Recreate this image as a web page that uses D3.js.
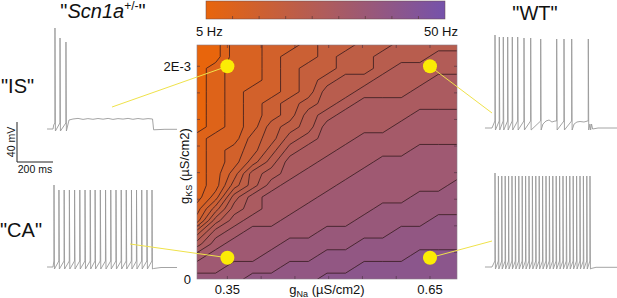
<!DOCTYPE html>
<html><head><meta charset="utf-8">
<script src="https://cdn.jsdelivr.net/npm/d3@7"></script>
<style>
html,body{margin:0;padding:0;background:#fff;}
svg{display:block;}
</style></head><body>
<svg id="chart" width="617" height="298"></svg>
<script>
// ================= DATA =================
// simulated firing frequency (Hz) on the (gNa, gKS) grid; rows = gKS (bottom -> top), cols = gNa (left -> right)
const gNaGrid = [0.305, 0.3325, 0.36, 0.3875, 0.415, 0.4425, 0.47, 0.4975, 0.525, 0.5525, 0.58, 0.6075, 0.635, 0.6625, 0.69];
const gKSGrid = [0, 0.11e-3, 0.22e-3, 0.33e-3, 0.44e-3, 0.55e-3, 0.66e-3, 0.77e-3, 0.88e-3, 0.99e-3, 1.10e-3,
                 1.21e-3, 1.32e-3, 1.43e-3, 1.54e-3, 1.65e-3, 1.76e-3, 1.87e-3, 1.98e-3, 2.09e-3, 2.20e-3];
const freqGrid = [
  [35, 35, 35, 37.5, 37.5, 37.5, 37.5, 40, 40, 40, 40, 40, 40, 40, 40],
  [32.5, 32.5, 35, 35, 35, 37.5, 37.5, 37.5, 37.5, 40, 40, 40, 40, 40, 40],
  [30, 32.5, 32.5, 32.5, 35, 35, 35, 37.5, 37.5, 37.5, 37.5, 37.5, 40, 40, 40],
  [25, 30, 32.5, 32.5, 32.5, 35, 35, 35, 35, 37.5, 37.5, 37.5, 37.5, 37.5, 37.5],
  [20, 27.5, 30, 32.5, 32.5, 32.5, 32.5, 35, 35, 35, 35, 37.5, 37.5, 37.5, 37.5],
  [12.5, 22.5, 27.5, 30, 30, 32.5, 32.5, 32.5, 32.5, 35, 35, 35, 35, 37.5, 37.5],
  [10, 17.5, 25, 27.5, 30, 30, 32.5, 32.5, 32.5, 32.5, 35, 35, 35, 35, 35],
  [7.5, 12.5, 22.5, 27.5, 30, 30, 30, 32.5, 32.5, 32.5, 32.5, 32.5, 35, 35, 35],
  [7.5, 10, 17.5, 22.5, 27.5, 30, 30, 30, 32.5, 32.5, 32.5, 32.5, 32.5, 32.5, 35],
  [7.5, 10, 15, 22.5, 25, 27.5, 30, 30, 30, 32.5, 32.5, 32.5, 32.5, 32.5, 32.5],
  [7.5, 10, 12.5, 17.5, 22.5, 27.5, 27.5, 30, 30, 30, 32.5, 32.5, 32.5, 32.5, 32.5],
  [7.5, 10, 12.5, 15, 20, 25, 27.5, 27.5, 30, 30, 30, 30, 32.5, 32.5, 32.5],
  [7.5, 10, 10, 15, 17.5, 22.5, 25, 27.5, 27.5, 30, 30, 30, 30, 30, 30],
  [5, 7.5, 10, 12.5, 17.5, 20, 22.5, 27.5, 27.5, 27.5, 27.5, 30, 30, 30, 30],
  [5, 7.5, 10, 12.5, 15, 17.5, 22.5, 25, 27.5, 27.5, 27.5, 27.5, 30, 30, 30],
  [5, 7.5, 10, 12.5, 15, 17.5, 20, 22.5, 25, 27.5, 27.5, 27.5, 27.5, 27.5, 27.5],
  [5, 7.5, 10, 12.5, 12.5, 15, 17.5, 22.5, 22.5, 25, 25, 25, 27.5, 27.5, 27.5],
  [5, 7.5, 10, 10, 12.5, 15, 17.5, 20, 22.5, 22.5, 25, 25, 25, 27.5, 27.5],
  [5, 7.5, 10, 10, 12.5, 15, 17.5, 17.5, 20, 20, 22.5, 25, 25, 25, 25],
  [5, 5, 10, 10, 12.5, 15, 15, 17.5, 20, 20, 22.5, 22.5, 22.5, 25, 25],
  [5, 5, 10, 10, 12.5, 12.5, 15, 17.5, 17.5, 20, 20, 22.5, 22.5, 22.5, 22.5]
];
const contourLevels = [6.25, 8.75, 11.25, 13.75, 16.25, 18.75, 21.25, 23.75, 26.25, 28.75, 31.25, 33.75, 36.25, 38.75];
const freqRange = [5, 50];
const colorStops = ["#e8650c", "#7552ab"];
const colorbarTicks = [10, 15, 20, 25, 30, 35, 40, 45];
const colorbarLabels = ["5 Hz", "50 Hz"];

const xTicks = [0.35, 0.40, 0.45, 0.50, 0.55, 0.60, 0.65];
const xTickLabels = [[0.35, "0.35"], [0.65, "0.65"]];
const yTicks = [0.25e-3, 0.5e-3, 0.75e-3, 1.0e-3, 1.25e-3, 1.5e-3, 1.75e-3, 2.0e-3];
const yTickLabels = [[2.0e-3, "2E-3"], [0, "0"]];

// example parameter sets (gNa, gKS) and their voltage traces
const markerNames = ["IS", "CA", "WT_up", "WT_low"];
const markerGNa = [0.35, 0.35, 0.65, 0.65];
const markerGKS = [2.0e-3, 0.2e-3, 2.0e-3, 0.2e-3];
// where each connector touches its trace (ms, mV)
const connectorT = [328, 428, 0, 0];
const connectorV = [-48, -47, -55, -44];

// voltage traces: spike times (ms), spike peaks (mV), slow (sub-threshold) key points [ms, mV]
const isSpikes = [11, 39, 72];
const isPeaks = [31, 21, 17];
const isSlow = [[-33,-70],[0,-70],[4,-66],[89,-61],[111,-60],[139,-59.4],[167,-60.4],[194,-59.6],[222,-60.3],[250,-59.5],[278,-60.2],[306,-59.4],[333,-60.4],[361,-59.6],[389,-60.1],[417,-59.4],[444,-60.3],[472,-59.5],[500,-60.2],[528,-59.6],[553,-60],[559,-70.8],[622,-70.3],[689,-70.3]];

const caSpikes = [5.6, 33, 62, 91, 120, 149, 178, 207, 234, 263, 292, 321, 350, 379, 407, 436, 464, 493, 522, 550];
const caPeaks = [12, 7, 7, 7, 7, 7, 7, 7, 7, 7, 7, 7, 7, 7, 7, 7, 7, 7, 7, 7];
const caSlow = [[-33,-70],[0,-70],[559,-71.5],[600,-70.5],[689,-70.5]];

const wtUpSpikes = [16.7, 40.6, 62.8, 87.2, 112.8, 142.8, 177.8, 215, 270.6, 359.4, 400, 442.8, 535];
const wtUpPeaks = [23, 21, 21, 21, 21, 21, 20, 20, 19, 19, 19, 19, 19];
const wtUpSlow = [[-39,-70],[0,-70],[283,-66],[300,-63],[317,-62],[333,-64],[350,-63],[456,-66],[472,-64],[489,-63.5],[511,-64],[531,-63],[544,-66],[548,-72],[553,-66],[559,-71],[589,-70],[711,-70]];

const wtLowSpikes = [16.7, 35.6, 54.4, 73.3, 92.2, 111.1, 130, 148.9, 167.8, 186.7, 205.6, 224.4, 243.3, 262.2, 281.1, 300, 318.9, 337.8, 356.7, 375.6, 394.4, 413.3, 432.2, 451.1, 470, 488.9, 507.8, 526.7, 544.4];
const wtLowPeaks = [24, 21, 21, 21, 21, 21, 21, 21, 21, 21, 21, 21, 21, 21, 21, 21, 21, 21, 21, 21, 21, 21, 21, 21, 21, 21, 21, 21, 21];
const wtLowSlow = [[-39,-70],[0,-70],[550,-71.5],[578,-70.3],[711,-70.3]];

const scaleBarMs = 200, scaleBarMV = 40;

// ================= DRAWING =================
const FONT = '"Liberation Sans", Arial, Helvetica, sans-serif';
const svg = d3.select("#chart").style("font-family", FONT);
const defs = svg.append("defs");

const PL = 197, PR = 457, PT = 45, PB = 279;
const x = d3.scaleLinear().domain([gNaGrid[0], gNaGrid[gNaGrid.length - 1]]).range([PL, PR]);
const y = d3.scaleLinear().domain([gKSGrid[0], gKSGrid[gKSGrid.length - 1]]).range([PB, PT]);
const color = d3.scaleLinear().domain(freqRange).range(colorStops).interpolate(d3.interpolateRgb);

// ---- colour bar ----
const cbX = d3.scaleLinear().domain(freqRange).range([206, 445]);
const grad = defs.append("linearGradient").attr("id", "cbGrad").attr("x1", "0%").attr("x2", "100%");
d3.range(0, 11).forEach(k => {
  const f = freqRange[0] + k / 10 * (freqRange[1] - freqRange[0]);
  grad.append("stop").attr("offset", (k * 10) + "%").attr("stop-color", color(f));
});
svg.append("rect").attr("x", cbX(5)).attr("y", 1).attr("width", cbX(50) - cbX(5)).attr("height", 18)
  .attr("fill", "url(#cbGrad)").attr("stroke", "#6a4a4a").attr("stroke-width", 0.5);
svg.append("g").selectAll("line").data(colorbarTicks).join("line")
  .attr("x1", d => cbX(d)).attr("x2", d => cbX(d)).attr("y1", 19).attr("y2", 16)
  .attr("stroke", "#5a3a3a").attr("stroke-width", 0.7);
svg.append("text").attr("x", cbX(5) - 10).attr("y", 36).attr("font-size", 13).attr("fill", "#111").text(colorbarLabels[0]);
svg.append("text").attr("x", cbX(50) + 13).attr("y", 36).attr("font-size", 13).attr("fill", "#111").attr("text-anchor", "end").text(colorbarLabels[1]);

// ---- contour map ----
defs.append("clipPath").attr("id", "plotClip").append("rect")
  .attr("x", PL).attr("y", PT).attr("width", PR - PL).attr("height", PB - PT);
const n = gNaGrid.length, m = gKSGrid.length;
const values = [];
for (let j = 0; j < m; j++) for (let i = 0; i < n; i++) values.push(freqGrid[j][i]);
const contours = d3.contours().size([n, m]).thresholds(contourLevels)(values);
const stepX = (gNaGrid[n - 1] - gNaGrid[0]) / (n - 1);
const stepY = (gKSGrid[m - 1] - gKSGrid[0]) / (m - 1);
const proj = d3.geoTransform({
  point(px, py) { this.stream.point(x(gNaGrid[0] + (px - 0.5) * stepX), y(gKSGrid[0] + (py - 0.5) * stepY)); }
});
const cpath = d3.geoPath(proj);
const gMap = svg.append("g").attr("clip-path", "url(#plotClip)");
gMap.append("rect").attr("x", PL).attr("y", PT).attr("width", PR - PL).attr("height", PB - PT)
  .attr("fill", color(freqRange[0]));
gMap.selectAll("path.band").data(contours).join("path").attr("class", "band")
  .attr("d", cpath).attr("fill", d => color(d.value + 2.5));
gMap.selectAll("path.iso").data(contours).join("path").attr("class", "iso")
  .attr("d", cpath).attr("fill", "none").attr("stroke", "#351a1e").attr("stroke-width", 0.8);

// frame + ticks
svg.append("rect").attr("x", PL).attr("y", PT).attr("width", PR - PL).attr("height", PB - PT)
  .attr("fill", "none").attr("stroke", "#8a7a86").attr("stroke-width", 0.6);
const tickG = svg.append("g").attr("stroke", "#4a3040").attr("stroke-width", 0.6);
xTicks.forEach(v => {
  tickG.append("line").attr("x1", x(v)).attr("x2", x(v)).attr("y1", PB).attr("y2", PB - 3);
  tickG.append("line").attr("x1", x(v)).attr("x2", x(v)).attr("y1", PT).attr("y2", PT + 3);
});
yTicks.forEach(v => {
  tickG.append("line").attr("x1", PL).attr("x2", PL + 3).attr("y1", y(v)).attr("y2", y(v));
  tickG.append("line").attr("x1", PR).attr("x2", PR - 3).attr("y1", y(v)).attr("y2", y(v));
});
svg.append("g").selectAll("text").data(xTickLabels).join("text")
  .attr("x", d => x(d[0])).attr("y", 294).attr("text-anchor", "middle").attr("font-size", 13).attr("fill", "#111")
  .text(d => d[1]);
svg.append("g").selectAll("text").data(yTickLabels).join("text")
  .attr("x", 191).attr("y", d => y(d[0]) + 4.5).attr("text-anchor", "end").attr("font-size", 13).attr("fill", "#111")
  .text(d => d[1]);

// axis titles
const xl = svg.append("text").attr("x", 327).attr("y", 294).attr("text-anchor", "middle").attr("font-size", 13).attr("fill", "#111");
xl.append("tspan").text("g");
xl.append("tspan").attr("font-size", 9).attr("dy", 3).text("Na");
xl.append("tspan").attr("dy", -3).text(" (µS/cm2)");
const yl = svg.append("text").attr("transform", "translate(189,166) rotate(-90)").attr("text-anchor", "middle").attr("font-size", 13).attr("fill", "#111");
yl.append("tspan").text("g");
yl.append("tspan").attr("font-size", 9).attr("dy", 3).text("KS");
yl.append("tspan").attr("dy", -3).text(" (µS/cm2)");

// ---- voltage traces ----
const pxPerMs = 0.18, pxPerMV = 1.0;
function panelScales(t0px, restPx) {
  const ts = d3.scaleLinear().domain([0, 1000]).range([t0px, t0px + 1000 * pxPerMs]);
  const vs = d3.scaleLinear().domain([-70, -30]).range([restPx, restPx - 40 * pxPerMV]);
  return { ts, vs };
}
const panels = {
  IS: panelScales(53, 129),
  CA: panelScales(53, 267),
  WT_up: panelScales(492, 128),
  WT_low: panelScales(492, 267)
};
function buildTrace(spikes, peaks, slow, thr, trough) {
  const pts = slow.map(p => ({ t: p[0], v: p[1] }));
  spikes.forEach((s, i) => {
    pts.push({ t: s - 0.6, v: thr });
    pts.push({ t: s, v: peaks[i] });
    pts.push({ t: s + 2.4, v: trough });
  });
  pts.sort((a, b) => a.t - b.t);
  return pts;
}
const traceDefs = [
  { key: "IS", pts: buildTrace(isSpikes, isPeaks, isSlow, -64, -72) },
  { key: "CA", pts: buildTrace(caSpikes, caPeaks, caSlow, -64, -72) },
  { key: "WT_up", pts: buildTrace(wtUpSpikes, wtUpPeaks, wtUpSlow, -63, -72) },
  { key: "WT_low", pts: buildTrace(wtLowSpikes, wtLowPeaks, wtLowSlow, -64, -72) }
];
traceDefs.forEach(td => {
  const p = panels[td.key];
  const line = d3.line().x(d => p.ts(d.t)).y(d => p.vs(d.v));
  svg.append("path").attr("d", line(td.pts)).attr("fill", "none")
    .attr("stroke", "#9a9a9a").attr("stroke-width", 0.9).attr("stroke-linejoin", "round");
});

// scale bar (uses the trace scales)
const sbX = 17, sbY = 162;
svg.append("path")
  .attr("d", `M${sbX},${sbY - scaleBarMV * pxPerMV}V${sbY}H${sbX + scaleBarMs * pxPerMs}`)
  .attr("fill", "none").attr("stroke", "#222").attr("stroke-width", 1);
svg.append("text").attr("transform", `translate(${sbX - 2},${sbY - scaleBarMV * pxPerMV / 2}) rotate(-90)`)
  .attr("text-anchor", "middle").attr("font-size", 10.5).attr("fill", "#111").text(scaleBarMV + " mV");
svg.append("text").attr("x", sbX + scaleBarMs * pxPerMs / 2).attr("y", sbY + 11).attr("text-anchor", "middle")
  .attr("font-size", 10.5).attr("fill", "#111").text(scaleBarMs + " ms");

// connectors and markers
markerNames.forEach((k, i) => {
  const p = panels[k];
  svg.append("line").attr("x1", p.ts(connectorT[i])).attr("y1", p.vs(connectorV[i]))
    .attr("x2", x(markerGNa[i])).attr("y2", y(markerGKS[i]))
    .attr("stroke", "#efe24a").attr("stroke-width", 1);
});
svg.append("g").selectAll("circle").data(markerNames).join("circle")
  .attr("cx", (d, i) => x(markerGNa[i])).attr("cy", (d, i) => y(markerGKS[i])).attr("r", 7)
  .attr("fill", "#fbec05");

// ---- titles ----
const t1 = svg.append("text").attr("x", 103).attr("y", 18).attr("text-anchor", "middle").attr("font-size", 20).attr("fill", "#111");
t1.append("tspan").text("\"");
t1.append("tspan").attr("font-style", "italic").text("Scn1a");
t1.append("tspan").attr("font-size", 12).attr("dy", -8).text("+/-");
t1.append("tspan").attr("dy", 8).text("\"");
svg.append("text").attr("x", 535).attr("y", 20).attr("text-anchor", "middle").attr("font-size", 20).attr("fill", "#111").text("\"WT\"");
svg.append("text").attr("x", 1).attr("y", 93).attr("font-size", 20).attr("fill", "#111").text("\"IS\"");
svg.append("text").attr("x", 0).attr("y", 237).attr("font-size", 20).attr("fill", "#111").text("\"CA\"");
</script>
</body></html>
